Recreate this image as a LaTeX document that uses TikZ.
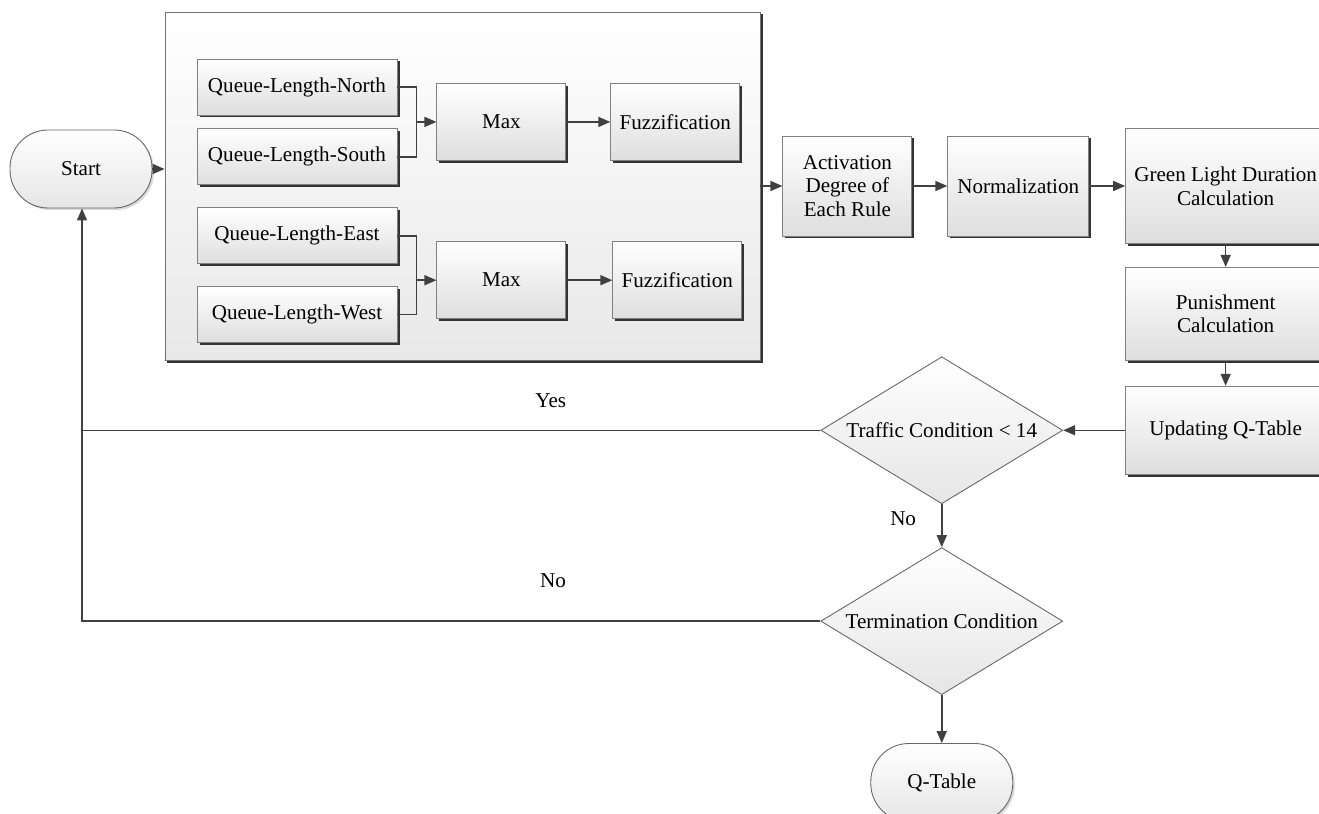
\documentclass[tikz,border=0pt]{standalone}
\usepackage{fontspec}
\setmainfont{Liberation Serif}
\usetikzlibrary{arrows.meta,positioning,shapes.geometric,shadows,calc}

\begin{document}
\begin{tikzpicture}[
    x=0.2mm,y=-0.2mm,
    font=\fontsize{12}{13.5}\selectfont,
    >={Triangle[length=2.4mm,width=2mm]},
    flow/.style={->,draw=black!75,line width=0.85pt},
    link/.style={draw=black!75,line width=0.85pt},
    block/.style={rectangle,draw=black!50,line width=0.5pt,top color=white,bottom color=black!13,
      drop shadow={shadow xshift=0.5mm,shadow yshift=-0.5mm,fill=black!80,opacity=1},
      align=center,inner sep=1mm},
    queue/.style={block,minimum width=40mm,minimum height=11.2mm},
    op/.style={block,minimum width=25.8mm,minimum height=15.4mm},
    stage/.style={block,minimum width=25.8mm,minimum height=20mm},
    side/.style={block,minimum width=40mm},
    panel/.style={rectangle,draw=black!55,line width=0.5pt,top color=white,bottom color=black!9,
      drop shadow={shadow xshift=0.5mm,shadow yshift=-0.5mm,fill=black!80,opacity=1},
      minimum width=119mm,minimum height=69.6mm},
    terminal/.style={rectangle,rounded corners=7.6mm,draw=black!60,line width=0.5pt,
      top color=white,bottom color=black!10,minimum width=28.4mm,minimum height=15.6mm,
      drop shadow={shadow xshift=0.4mm,shadow yshift=-0.4mm,fill=black!30,opacity=0.5}},
    decision/.style={diamond,aspect=1.65,inner sep=0pt,draw=black!60,line width=0.5pt,
      top color=white,bottom color=black!10,minimum width=48.4mm,minimum height=29.4mm},
    note/.style={inner sep=1mm}
  ]
    \useasboundingbox (0,0) rectangle (1319,814);

    \node[terminal] (start) at (81,169) {Start};
    \node[panel] (panel) at (462.5,186) {};

    % queue inputs
    \node[queue] (qn) at (297,87) {Queue-Length-North};
    \node[queue,below=2.6mm of qn] (qs) {Queue-Length-South};
    \node[queue,below=4.4mm of qs] (qe) {Queue-Length-East};
    \node[queue,below=4.4mm of qe] (qw) {Queue-Length-West};

    \coordinate (mid1) at ($(qn.east)!0.5!(qs.east)$);
    \coordinate (mid2) at ($(qe.east)!0.5!(qw.east)$);
    \node[op,right=7.8mm of mid1] (max1) {Max};
    \node[op,right=8.8mm of max1] (fuz1) {Fuzzification};
    \node[op,right=7.8mm of mid2,yshift=-1mm] (max2) {Max};
    \node[op,right=9.2mm of max2] (fuz2) {Fuzzification};

    % rule chain
    \node[stage,right=4.4mm of panel] (act) {Activation\\Degree of\\Each Rule};
    \node[stage,minimum width=28.2mm,right=7mm of act] (norm) {Normalization};
    \node[side,minimum height=23mm,right=7.2mm of norm] (green) {Green Light Duration\\Calculation};
    \node[side,minimum height=18.6mm,below=4.6mm of green] (pun) {Punishment\\Calculation};
    \node[side,minimum height=17.6mm,below=5mm of pun] (upd) {Updating Q-Table};

    \node[decision,left=12.4mm of upd] (traffic) {Traffic Condition < 14};
    \node[decision,below=8.6mm of traffic] (term) {Termination Condition};
    \node[terminal,below=9.6mm of term] (qtab) {Q-Table};

    \draw[flow] (start.east) -- (start.east -| panel.west);
    \draw[link] (qn.east) -- ++(3.8mm,0) coordinate (j1) |- (qs.east);
    \draw[flow] (j1 |- max1.west) -- (max1.west);
    \draw[link] (qe.east) -- ++(3.8mm,0) coordinate (j2) |- (qw.east);
    \draw[flow] (j2 |- max2.west) -- (max2.west);
    \draw[flow] (max1) -- (fuz1);
    \draw[flow] (max2) -- (fuz2);

    \draw[flow] (panel.east |- act.west) -- (act.west);
    \draw[flow] (act) -- (norm);
    \draw[flow] (norm) -- (green);
    \draw[flow] (green) -- (pun);
    \draw[flow] (pun) -- (upd);
    \draw[flow] (upd) -- (traffic);
    \draw[flow] (traffic) -- node[note,pos=0.33,left=4mm] {No} (term);
    \draw[flow] (term) -- (qtab);

    \draw[flow] (traffic.west) -- node[note,pos=0.365,above=3.4mm] {Yes}
      ($(traffic.west -| start.south)+(1,0)$) -- ($(start.south)+(1,0)$);
    \draw[link] (term.west) -- node[note,pos=0.362,above=5.6mm] {No}
      ($(term.west -| start.south)+(1,0)$) -- ($(traffic.west -| start.south)+(1,0)$);
  \end{tikzpicture}
\end{document}
